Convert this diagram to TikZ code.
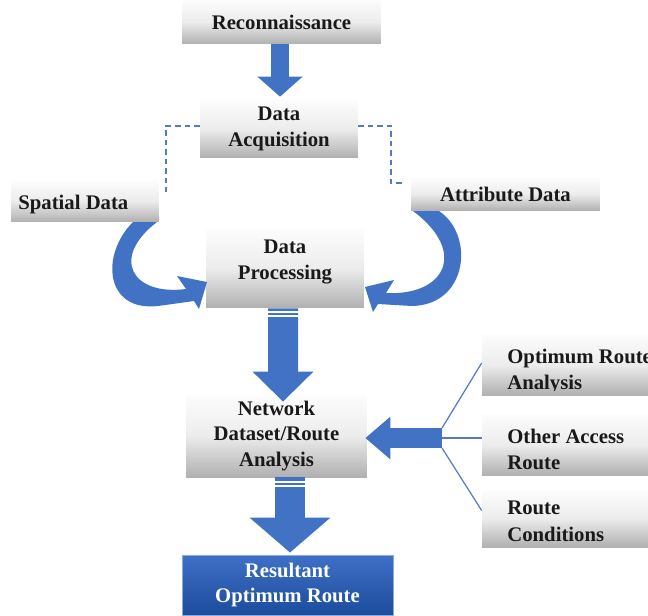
\documentclass[tikz,border=0pt]{standalone}
\usepackage{fontspec}
\setmainfont{Liberation Serif}
\usetikzlibrary{arrows.meta,calc}
\definecolor{arrowblue}{RGB}{66,114,196}
\definecolor{lineblue}{RGB}{82,122,200}
\definecolor{resTop}{RGB}{62,112,198}
\definecolor{resBot}{RGB}{28,76,156}
\tikzset{
  lbl/.style={font=\fontsize{11.8}{14.7}\selectfont\bfseries, text=black!90, inner sep=0pt},
  gbox/.style={rectangle, inner sep=0pt, top color=gray!2, bottom color=gray!62, middle color=gray!15, lbl, align=center},
  bbox/.style={rectangle, inner sep=0pt, top color=resTop, bottom color=resBot, draw=resTop!60!white, line width=0.5pt, lbl, text=white, align=center},
  barrow/.style={draw=arrowblue},
  stripe/.style={draw=white, line width=0.04cm},
  dashline/.style={draw=lineblue, line width=0.9pt, dash pattern=on 0.11cm off 0.08cm},
  thinline/.style={draw=lineblue, line width=0.7pt},
  curvearrow/.style={fill=arrowblue}
}
\begin{document}
\begin{tikzpicture}[x=0.02cm,y=-0.02cm]
\useasboundingbox (0,0) rectangle (648,615);
\clip (0,0) rectangle (648,615);

% boxes
\node[gbox, minimum width=3.98cm, minimum height=0.88cm] (recon) at (281.5,22) {Reconnaissance};
\node[gbox, minimum width=3.16cm, minimum height=1.16cm] (acq) at (279,129) {Data\\Acquisition};
\node[gbox, minimum width=2.96cm, minimum height=0.84cm] (spatial) at (85,201) {};
\node[lbl, anchor=base west] (spatialT) at (18,209) {Spatial Data};
\node[gbox, minimum width=3.78cm, minimum height=0.68cm] (attr) at (505.5,194) {Attribute Data};
\node[gbox, minimum width=3.16cm, minimum height=1.58cm] (proc) at (285,268.5) {};
\node[lbl, align=center] (procT) at (285,262) {Data\\Processing};
\node[gbox, minimum width=3.62cm, minimum height=1.64cm] (net) at (276.5,436) {Network\\Dataset/Route\\Analysis};
\node[gbox, minimum width=3.96cm, minimum height=1.2cm] (opt) at (581,365) {};
\node[gbox, minimum width=3.96cm, minimum height=1.2cm] (other) at (581,445) {};
\node[gbox, minimum width=3.96cm, minimum height=1.14cm] (cond) at (581,518.5) {};
\node[bbox, minimum width=4.22cm, minimum height=1.2cm] (result) at (287.5,585) {Resultant\\Optimum Route};

% left-aligned texts of the right boxes
\node[lbl, anchor=base west] (optT1) at (507,363) {Optimum Route};
\begin{scope}
  \clip (482,340) rectangle (648,390);
  \node[lbl, anchor=base west] (optT2) at (507,389) {Analysis};
\end{scope}
\node[lbl, anchor=base west] (otherT1) at (507,443) {Other Access};
\node[lbl, anchor=base west] (otherT2) at (507,469) {Route};
\node[lbl, anchor=base west] (condT1) at (507,514) {Route};
\node[lbl, anchor=base west] (condT2) at (507,541) {Conditions};

% dashed links
\coordinate (dl) at (166,192);
\coordinate (dr) at (404,183);
\draw[dashline] ($(acq.west)+(0,-3)$) -| (dl);
\draw[dashline] ($(acq.east)+(0,-3)$) -| (391,183) -- (dr);

% block arrows
\draw[barrow, line width=0.36cm, -{Triangle[width=0.88cm,length=0.4cm]}]
  ($(recon.south)+(-1.5,0)$) -- ($(acq.north)+(1,-3)$);
\draw[barrow, line width=0.6cm, -{Triangle[width=1.18cm,length=0.6cm]}]
  ($(proc.south)+(-2,0)$) -- ($(net.north)+(6.5,7)$);
\draw[stripe] ($(proc.south)+(-18,3.5)$) -- ++(32,0);
\draw[stripe] ($(proc.south)+(-18,7.5)$) -- ++(32,0);
\draw[barrow, line width=0.6cm, -{Triangle[width=1.58cm,length=0.7cm]}]
  ($(net.south)+(13.5,0)$) -- ($(result.north)+(2.5,-2)$);
\draw[stripe] ($(net.south)+(-3,4.5)$) -- ++(33,0);
\draw[stripe] ($(net.south)+(-3,9)$) -- ++(33,0);

% hub arrow and lines
\coordinate (hub) at (442,438);
\coordinate (hubT) at (442,428);
\coordinate (hubB) at (442,448);
\draw[thinline] (hubT) -- ($(opt.west)+(0,-2)$);
\draw[thinline] (hub) -- (other.west |- hub);
\draw[thinline] (hubB) -- ($(cond.west)+(0,-8)$);
\draw[barrow, line width=0.4cm, -{Triangle[width=0.82cm,length=0.5cm]}]
  (hub) -- ($(net.east |- hub)+(-2,0)$);

% curved arrows
\fill[curvearrow] (133,222) .. controls (100,255) and (105,312) .. (158,306)
  -- (194,301) -- (199,309) -- (207,282) -- (177,276) -- (186,289)
  .. controls (132,296) and (110,258) .. (157,222) -- cycle;
\fill[curvearrow] (439,211) .. controls (475,235) and (468,305) .. (412,306)
  -- (378,304) -- (373,312) -- (365,287) -- (394,280) -- (386,293)
  .. controls (445,296) and (468,252) .. (413,211) -- cycle;
\end{tikzpicture}
\end{document}
